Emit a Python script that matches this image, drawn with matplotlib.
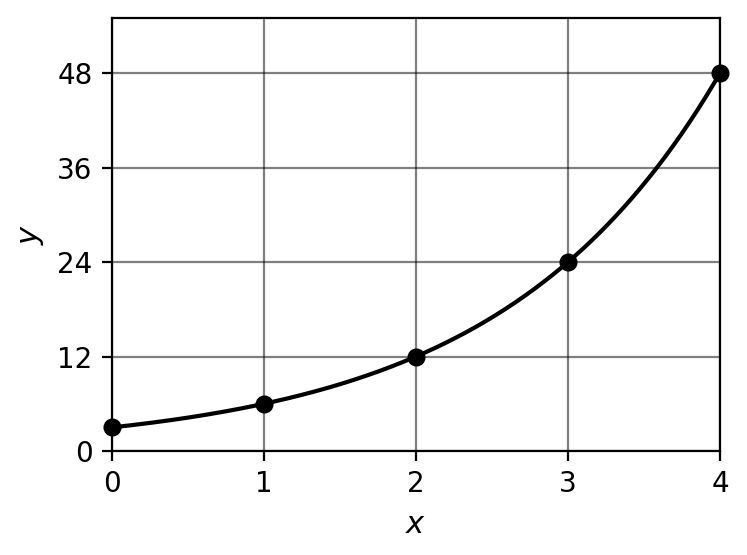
import numpy as np
import matplotlib.pyplot as plt

# data points
x_pts = [0, 1, 2, 3, 4]
y_pts = [3, 6, 12, 24, 48]
x_ticks = [0, 1, 2, 3, 4]
y_ticks = [0, 12, 24, 36, 48]

# smooth curve through the points (exponential: start value times doubling)
y0 = y_pts[0]
ratio = y_pts[1] / y_pts[0]
xs = np.linspace(x_pts[0], x_pts[-1], 300)
ys = y0 * ratio ** xs

fig = plt.figure(figsize=(7.47 / 2, 5.55 / 2), dpi=200)
ax = fig.add_axes([112 / 747, 1 - 451 / 555, (720 - 112) / 747, (451 - 18) / 555])

ax.plot(xs, ys, color='black', lw=1.5, zorder=3)
ax.plot(x_pts, y_pts, 'o', color='black', ms=5.5, zorder=4, clip_on=False)

ax.set_xlim(0, 4)
ax.set_ylim(0, 55)
ax.set_xticks(x_ticks)
ax.set_yticks(y_ticks)
ax.tick_params(labelsize=10)
ax.grid(True, color='black', alpha=0.5, lw=0.8)
ax.set_xlabel('$x$', fontsize=11)
ax.set_ylabel('$y$', fontsize=11)

plt.savefig('out.png', dpi=200)
